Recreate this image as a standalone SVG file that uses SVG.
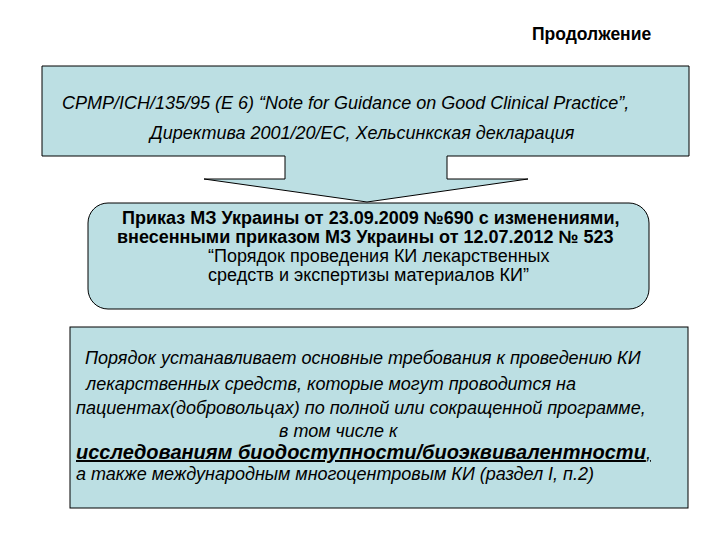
<svg xmlns="http://www.w3.org/2000/svg" width="720" height="540" viewBox="0 0 720 540">
<style>
.box{fill:#bcdfe3;stroke:#000;stroke-width:1}
.t{font-family:"Liberation Sans",Arial,sans-serif;fill:#000}
.it{font-style:italic;font-size:18px}
.b{font-weight:bold;font-size:18px}
.r{font-size:18px}
</style>
<rect width="720" height="540" fill="#fff"/>
<g id="title"><text class="t" x="532" y="40" font-size="17.5" font-weight="bold">Продолжение</text></g>
<g id="sources">
<path class="box" d="M42,66 H689 V156 H447 V179 H528 L367,202 L204,179 H285 V156 H42 Z"/>
<text class="t it" x="62" y="109">CPMP/ICH/135/95 (E 6) “Note for Guidance on Good Clinical Practice”,</text>
<text class="t it" x="150" y="139">Директива 2001/20/EC, Хельсинкская декларация</text>
</g>
<g id="order">
<rect class="box" x="88" y="203" width="561" height="106" rx="20" ry="20"/>
<text class="t b" x="122" y="224">Приказ МЗ Украины от 23.09.2009 №690 с изменениями,</text>
<text class="t b" x="117" y="243">внесенными приказом МЗ Украины от 12.07.2012 № 523</text>
<text class="t r" x="208" y="262">“Порядок проведения КИ лекарственных</text>
<text class="t r" x="208" y="281">средств и экспертизы материалов КИ”</text>
</g>
<g id="scope">
<rect class="box" x="70" y="327" width="618" height="181"/>
<text class="t it" x="85" y="364">Порядок устанавливает основные требования к проведению КИ</text>
<text class="t it" x="86" y="390">лекарственных средств, которые могут проводится на</text>
<text class="t it" x="76" y="414">пациентах(добровольцах) по полной или сокращенной программе,</text>
<text class="t it" x="279" y="437">в том числе к</text>
<text class="t" x="76" y="459" font-size="20" font-weight="bold" font-style="italic" text-decoration="underline">исследованиям биодоступности/биоэквивалентности<tspan font-weight="normal" font-size="18">,</tspan></text>
<text class="t it" x="76" y="480">а также международным многоцентровым КИ (раздел I, п.2)</text>
</g>
<g id="connectors"/>
</svg>
